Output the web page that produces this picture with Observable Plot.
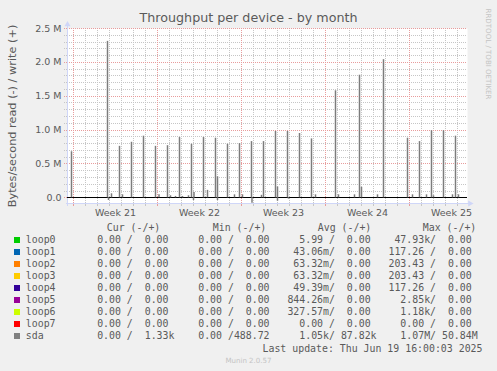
<!DOCTYPE html>
<html>
<head>
<meta charset="utf-8">
<script src="https://cdn.jsdelivr.net/npm/d3@7"></script>
<script src="https://cdn.jsdelivr.net/npm/@observablehq/plot@0.6"></script>
<style>
html,body{margin:0;padding:0;}
body{background:#f0f0f0;width:497px;height:371px;position:relative;overflow:hidden;}
#chart{position:absolute;left:0;top:0;}
.txt{position:absolute;white-space:pre;color:#5a5a5a;margin:0;}
.title{font-family:"DejaVu Sans";font-size:12.7px;line-height:12.7px;left:0;width:497px;text-align:center;top:12.2px;}
.mono{font-family:"DejaVu Sans Mono";font-size:9.9px;line-height:9.9px;}
.sw{position:absolute;width:6px;height:6px;left:14px;}
.wm{font-family:"DejaVu Sans";font-size:7.07px;line-height:7.07px;color:#c4c4c4;left:0;width:497px;text-align:center;}
</style>
</head>
<body>
<div id="chart"></div>
<div class="txt title">Throughput per device - by month</div>
<div id="legend"></div>
<script>
// ---- time / value domains ----
const xStart = new Date("2025-05-18T12:00:00Z");
const xEnd = new Date("2025-06-20T20:00:00Z");
const yMin = -84000, yMax = 2500000;

// ---- ticks ----
const yTicks = [0, 500000, 1000000, 1500000, 2000000, 2500000];
const yTickLabels = ["0.0", "0.5 M", "1.0 M", "1.5 M", "2.0 M", "2.5 M"];
const weekStartDays = ["2025-05-19", "2025-05-26", "2025-06-02", "2025-06-09", "2025-06-16"];
const weekMidDays = ["2025-05-22", "2025-05-29", "2025-06-05", "2025-06-12", "2025-06-19"];
const weekLabels = ["Week 21", "Week 22", "Week 23", "Week 24", "Week 25"];

// ---- sda series (bytes/second) ----
const sdaWriteTimes = [
  "2025-05-18T20:00","2025-05-21T20:00","2025-05-22T04:00","2025-05-22T20:00","2025-05-23T02:00",
  "2025-05-23T20:00","2025-05-24T20:00","2025-05-25T20:00","2025-05-26T03:00","2025-05-26T20:00",
  "2025-05-27T02:00","2025-05-27T12:00","2025-05-27T20:00","2025-05-28T02:00","2025-05-28T14:00",
  "2025-05-28T20:00","2025-05-29T01:00","2025-05-29T20:00","2025-05-30T04:00","2025-05-30T20:00",
  "2025-05-31T00:00","2025-05-31T20:00","2025-06-01T10:00","2025-06-01T20:00","2025-06-02T02:00",
  "2025-06-02T20:00","2025-06-03T16:00","2025-06-03T20:00","2025-06-04T20:00","2025-06-05T00:00",
  "2025-06-05T20:00","2025-06-06T20:00","2025-06-07T20:00","2025-06-08T04:00","2025-06-09T20:00",
  "2025-06-10T02:00","2025-06-11T10:00","2025-06-11T20:00","2025-06-12T00:00","2025-06-13T08:00",
  "2025-06-13T20:00","2025-06-15T20:00","2025-06-16T06:00","2025-06-16T20:00","2025-06-17T10:00",
  "2025-06-17T20:00","2025-06-18T00:00","2025-06-18T20:00","2025-06-19T14:00","2025-06-19T20:00",
  "2025-06-20T02:00"
];
const sdaWriteValues = [
  680000, 2310000, 59000, 760000, 44000,
  820000, 910000, 760000, 44000, 770000,
  30000, 20000, 890000, 20000, 30000,
  790000, 80000, 890000, 110000, 880000,
  310000, 790000, 44000, 800000, 44000,
  830000, 37000, 830000, 980000, 160000,
  980000, 950000, 870000, 44000, 1580000,
  44000, 44000, 1810000, 155000, 44000,
  2040000, 880000, 44000, 830000, 44000,
  990000, 30000, 990000, 44000, 910000,
  44000
];
const sdaReadTimes = ["2025-05-21T22:00","2025-05-29T00:00","2025-05-31T00:00","2025-06-02T21:00","2025-06-05T00:00","2025-06-05T22:00"];
const sdaReadValues = [40000, 40000, 40000, 80000, 50000, 20000];

// ---- legend table ----
const names = ["loop0","loop1","loop2","loop3","loop4","loop5","loop6","loop7","sda"];
const colors = ["#00CC00","#0066B3","#FF8000","#FFCC00","#330099","#990099","#CCFF00","#FF0000","#808080"];
const curRead  = ["0.00","0.00","0.00","0.00","0.00","0.00","0.00","0.00","0.00"];
const curWrite = ["0.00","0.00","0.00","0.00","0.00","0.00","0.00","0.00","1.33k"];
const minRead  = ["0.00","0.00","0.00","0.00","0.00","0.00","0.00","0.00","0.00"];
const minWrite = ["0.00","0.00","0.00","0.00","0.00","0.00","0.00","0.00","488.72"];
const avgRead  = ["5.99","43.06m","63.32m","63.32m","49.39m","844.26m","327.57m","0.00","1.05k"];
const avgWrite = ["0.00","0.00","0.00","0.00","0.00","0.00","0.00","0.00","87.82k"];
const maxRead  = ["47.93k","117.26","203.43","203.43","117.26","2.85k","1.18k","0.00","1.07M"];
const maxWrite = ["0.00","0.00","0.00","0.00","0.00","0.00","0.00","0.00","50.84M"];
const headers = ["Cur (-/+)","Min (-/+)","Avg (-/+)","Max (-/+)"];
const lastUpdate = "Last update: Thu Jun 19 16:00:03 2025";
const version = "Munin 2.0.57";

// ---- derived ----
const utc = s => new Date(s + ":00Z");
const weekStarts = weekStartDays.map(s => new Date(s + "T00:00:00Z"));
const weekMids = weekMidDays.map(s => new Date(s + "T12:00:00Z"));
const weekMap = new Map(weekMids.map((d, i) => [+d, weekLabels[i]]));
const yLabMap = new Map(yTicks.map((t, i) => [t, yTickLabels[i]]));
const weekSet = new Set(weekStarts.map(d => +d));
const dayTicks = d3.utcDay.range(d3.utcDay.ceil(xStart), xEnd).filter(d => !weekSet.has(+d));
const minorY = d3.range(100000, yMax + 1, 100000).filter(v => v % 500000 !== 0);

const H = 7200e3; // one pixel = 2 hours
const pxY = (yMax - yMin) / 175;
const gridGray = "#c6c6c6", gridRed = "#e89c9c", axisBlue = "#CFD6F8";
const wIdx = d3.range(sdaWriteTimes.length), rIdx = d3.range(sdaReadTimes.length);
const crisp = {shapeRendering: "crispEdges"};

const chart = Plot.plot({
  width: 497, height: 230,
  marginLeft: 67, marginRight: 30, marginTop: 28, marginBottom: 27,
  x: {type: "utc", domain: [xStart, xEnd]},
  y: {domain: [yMin, yMax]},
  style: {background: "transparent", fontFamily: "DejaVu Sans", fontSize: "9.5px", color: "#5a5a5a", overflow: "visible"},
  marks: [
    Plot.frame({fill: "white", stroke: null}),
    Plot.ruleY(minorY, {stroke: gridGray, strokeDasharray: "1,1", ...crisp}),
    Plot.ruleX(dayTicks, {stroke: gridGray, strokeDasharray: "1,1", ...crisp}),
    Plot.ruleY(yTicks, {stroke: gridRed, strokeDasharray: "1,1", ...crisp}),
    Plot.ruleX(weekStarts, {stroke: gridRed, strokeDasharray: "1,1", ...crisp}),
    Plot.axisY({ticks: minorY, tickSize: 3, tickFormat: () => "", stroke: gridGray, strokeDasharray: "1,1", ...crisp}),
    Plot.axisY({ticks: yTicks, tickSize: 3, tickPadding: 3, tickFormat: d => yLabMap.get(d), stroke: gridRed, strokeDasharray: "1,1", ...crisp}),
    Plot.axisX({ticks: dayTicks, tickSize: 3, tickFormat: () => "", stroke: gridGray, ...crisp}),
    Plot.axisX({ticks: weekStarts, tickSize: 3, tickFormat: () => "", stroke: gridRed, ...crisp}),
    Plot.axisX({ticks: weekMids, tickSize: 0, tickPadding: 5.5, tickFormat: d => weekMap.get(+d)}),
    // axis lines with arrows
    Plot.ruleY([yMin], {x1: new Date(+xStart - 1.5 * H), x2: new Date(+xEnd + 2.5 * H), stroke: axisBlue, ...crisp}),
    Plot.ruleX([xStart], {y1: yMin - 3 * pxY, y2: yMax + 4 * pxY, stroke: axisBlue, ...crisp}),
    Plot.dot([0], {x: () => xStart, y: () => yMax + 4 * pxY, symbol: "triangle", r: 2.3, fill: axisBlue, stroke: null}),
    Plot.dot([0], {x: () => new Date(+xEnd + 2.5 * H), y: () => yMin, symbol: "triangle", r: 2.3, rotate: 90, fill: axisBlue, stroke: null}),
    // loop devices (all zero at this scale)
    ...names.slice(0, 8).map((n, i) => Plot.ruleY([0], {stroke: colors[i], ...crisp})),
    Plot.ruleY([0], {stroke: "black", strokeWidth: 1, ...crisp}),
    // sda write (+) and read (-)
    Plot.ruleX(wIdx, {x: i => utc(sdaWriteTimes[i]), y1: 0, y2: i => sdaWriteValues[i], stroke: "#7c7c7c", strokeWidth: 1.5}),
    Plot.ruleX(rIdx, {x: i => utc(sdaReadTimes[i]), y1: 0, y2: i => -sdaReadValues[i], stroke: "#7c7c7c", strokeWidth: 1.5}),
    // side labels
    Plot.text(["Bytes/second read (-) / write (+)"], {text: d => d, frameAnchor: "left", dx: -55.6, rotate: -90, textAnchor: "middle", lineAnchor: "middle", fontSize: 11.3, fill: "#5a5a5a"}),
    Plot.text(["RRDTOOL / TOBI OETIKER"], {text: d => d, frameAnchor: "top-right", dx: 20.3, dy: 25.5, rotate: 90, textAnchor: "middle", lineAnchor: "middle", fontSize: 7.07, fill: "#c4c4c4"})
  ]
});
document.getElementById("chart").appendChild(chart);

// ---- legend (HTML text) ----
const legend = document.getElementById("legend");
function fmt(s) {
  const hasUnit = /[a-zA-Z]$/.test(s);
  const n = hasUnit ? s.slice(0, -1) : s;
  return n.padStart(6) + (hasUnit ? s.slice(-1) : " ");
}
const pair = (r, w) => fmt(r) + "/" + fmt(w);
function addText(cls, text, style) {
  const el = document.createElement("div");
  el.className = "txt " + cls;
  el.textContent = text;
  Object.assign(el.style, style);
  legend.appendChild(el);
  return el;
}
const headerX = [106.8, 212.8, 317.8, 422.8];
headers.forEach((h, i) => addText("mono", h, {left: headerX[i] + "px", top: "222.6px"}));
names.forEach((n, i) => {
  const top = 235.1 + 11.97 * i;
  const sw = document.createElement("div");
  sw.className = "sw";
  sw.style.top = Math.round(237 + 11.97 * i) + "px";
  sw.style.background = colors[i];
  legend.appendChild(sw);
  const row = n.padEnd(10) + pair(curRead[i], curWrite[i]) + "  " + pair(minRead[i], minWrite[i]) + "  " +
    pair(avgRead[i], avgWrite[i]) + "  " + pair(maxRead[i], maxWrite[i]);
  addText("mono", row, {left: "25.8px", top: top.toFixed(1) + "px"});
});
addText("mono", lastUpdate, {right: "14.5px", top: "343.6px"});
addText("wm", version, {top: "356.6px"});
</script>
</body>
</html>
